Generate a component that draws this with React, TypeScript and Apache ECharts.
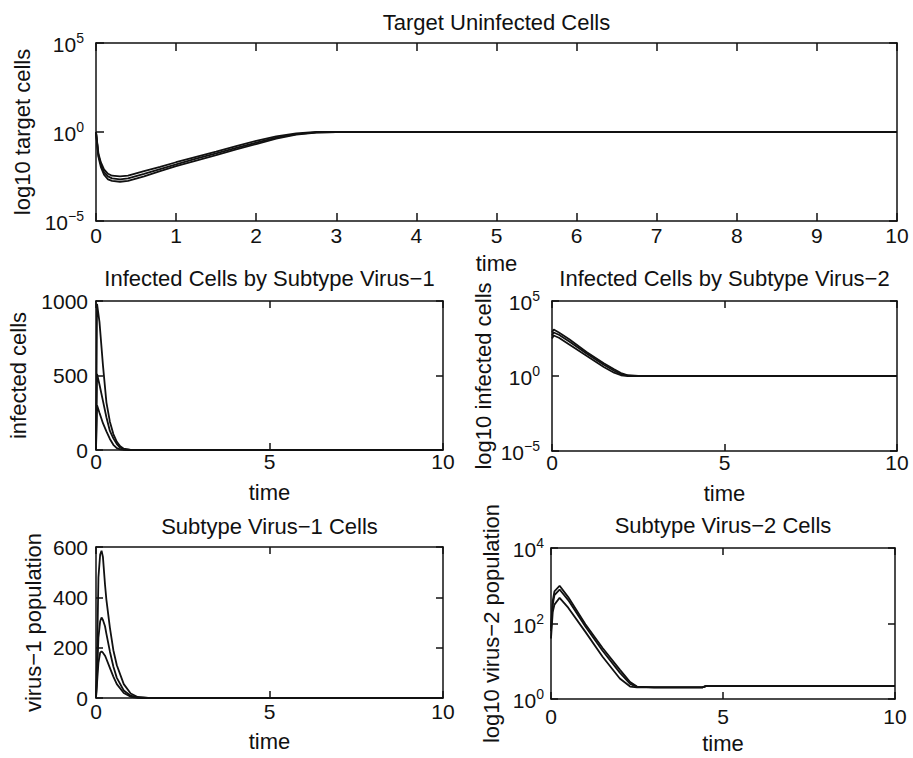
import React, { useEffect, useRef } from 'react';
import * as echarts from 'echarts';

// ---------- data ----------
// Panel 1: Target Uninfected Cells (log scale)
const timeT = [0, 0.03, 0.06, 0.1, 0.15, 0.2, 0.3, 0.4, 0.6, 0.8, 1.0, 1.25, 1.5, 1.75, 2.0, 2.25, 2.5, 2.75, 3.0, 10];
const targetA = [1, 0.063, 0.02, 0.0079, 0.0045, 0.0035, 0.0032, 0.0035, 0.0063, 0.011, 0.02, 0.04, 0.079, 0.16, 0.32, 0.56, 0.83, 1, 1, 1];
const targetB = [1, 0.05, 0.016, 0.0056, 0.0032, 0.0025, 0.0022, 0.0025, 0.0045, 0.0083, 0.015, 0.032, 0.063, 0.13, 0.25, 0.48, 0.76, 0.95, 1, 1];
const targetC = [1, 0.04, 0.011, 0.004, 0.0022, 0.0018, 0.0016, 0.0018, 0.0032, 0.0063, 0.012, 0.025, 0.05, 0.105, 0.21, 0.42, 0.71, 0.93, 1, 1];

// Panel 2: Infected Cells by Subtype Virus-1 (linear)
const timeI1 = [0, 0.03, 0.1, 0.2, 0.3, 0.4, 0.5, 0.6, 0.7, 0.8, 1.0, 1.2, 10];
const infected1A = [0, 980, 860, 570, 320, 190, 107, 55, 25, 9, 1, 0, 0];
const infected1B = [0, 510, 440, 330, 220, 128, 78, 40, 15, 4, 0, 0, 0];
const infected1C = [0, 300, 250, 180, 125, 74, 35, 12, 4, 1, 0, 0, 0];

// Panel 3: Infected Cells by Subtype Virus-2 (log scale)
const timeI2 = [0, 0.05, 0.2, 0.5, 1.0, 1.5, 1.8, 2.0, 2.2, 2.5, 10];
const infected2A = [794, 1259, 794, 282, 40, 7.1, 2.8, 1.58, 1.12, 1, 1];
const infected2B = [501, 794, 562, 200, 31.6, 5.6, 2.24, 1.32, 1.05, 1, 1];
const infected2C = [316, 501, 355, 126, 22.4, 4.0, 1.66, 1.12, 1, 1, 1];

// Panel 4: Subtype Virus-1 Cells (linear)
const timeV1 = [0, 0.03, 0.07, 0.12, 0.16, 0.2, 0.26, 0.3, 0.4, 0.5, 0.6, 0.8, 1.0, 1.2, 1.5, 10];
const virus1A = [0, 150, 480, 570, 585, 560, 450, 390, 280, 190, 130, 55, 18, 4, 0, 0];
const virus1B = [0, 90, 240, 305, 320, 310, 285, 255, 185, 125, 80, 30, 9, 2, 0, 0];
const virus1C = [0, 60, 140, 180, 185, 180, 168, 155, 120, 85, 55, 20, 5, 1, 0, 0];

// Panel 5: Subtype Virus-2 Cells (log scale)
const timeV2 = [0, 0.05, 0.1, 0.25, 0.5, 1.0, 1.5, 2.0, 2.3, 2.5, 3.0, 4.4, 4.5, 10];
const virus2A = [79, 398, 708, 1000, 501, 95, 22.4, 6.0, 2.8, 2.14, 2.04, 2.04, 2.19, 2.19];
const virus2B = [63, 316, 562, 794, 417, 83, 19, 5.0, 2.5, 2.09, 2.04, 2.04, 2.19, 2.19];
const virus2C = [40, 200, 316, 479, 263, 60, 13.2, 3.5, 2.14, 2.04, 2.04, 2.04, 2.19, 2.19];

// tick values
const logTicksWide = [1e-5, 1, 1e5];
const logTicksVirus2 = [1, 100, 10000];

// titles and axis names
const titles = [
  'Target Uninfected Cells',
  'Infected Cells by Subtype Virus\u22121',
  'Infected Cells by Subtype Virus\u22122',
  'Subtype Virus\u22121 Cells',
  'Subtype Virus\u22122 Cells',
];
const yNames = [
  'log10 target cells',
  'infected cells',
  'log10 infected cells',
  'virus\u22121 population',
  'log10 virus\u22122 population',
];
const xName = 'time';

// ---------- styling / layout ----------
const FONT = '"Liberation Sans", Arial, Helvetica, sans-serif';
const INK = '#111111';
const TICK_FS = 21;
const TITLE_FS = 22;

type Panel = {
  grid: { left: number; top: number; width: number; height: number };
  xInterval: number;
  yLog: boolean;
  yMin: number;
  yMax: number;
  yInterval?: number;
  yTicks?: number[];
  xMargin: number;
  yMargin: number;
  yNameGap: number;
  xNameGap: number;
  tick: number;
  titleY: number;
  series: { t: number[]; v: number[][] };
};

const panels: Panel[] = [
  {
    grid: { left: 96, top: 43, width: 801, height: 178 }, xInterval: 1, yLog: true, yMin: 1e-5, yMax: 1e5,
    yTicks: logTicksWide, xMargin: 4, yMargin: 12, yNameGap: 52, xNameGap: 31, tick: 8, titleY: 22,
    series: { t: timeT, v: [targetA, targetB, targetC] },
  },
  {
    grid: { left: 96, top: 301, width: 347, height: 149 }, xInterval: 5, yLog: false, yMin: 0, yMax: 1000,
    yInterval: 500, xMargin: 1, yMargin: 8, yNameGap: 67, xNameGap: 31, tick: 7, titleY: 278,
    series: { t: timeI1, v: [infected1A, infected1B, infected1C] },
  },
  {
    grid: { left: 552, top: 301, width: 345, height: 150 }, xInterval: 5, yLog: true, yMin: 1e-5, yMax: 1e5,
    yTicks: logTicksWide, xMargin: 1, yMargin: 12, yNameGap: 58, xNameGap: 31, tick: 7, titleY: 278,
    series: { t: timeI2, v: [infected2A, infected2B, infected2C] },
  },
  {
    grid: { left: 96, top: 547, width: 347, height: 151 }, xInterval: 5, yLog: false, yMin: 0, yMax: 600,
    yInterval: 200, xMargin: 3, yMargin: 8, yNameGap: 52, xNameGap: 32, tick: 7, titleY: 526,
    series: { t: timeV1, v: [virus1A, virus1B, virus1C] },
  },
  {
    grid: { left: 551, top: 548, width: 344, height: 151 }, xInterval: 5, yLog: true, yMin: 1, yMax: 1e4,
    yTicks: logTicksVirus2, xMargin: 7, yMargin: 7, yNameGap: 49, xNameGap: 33, tick: 7, titleY: 525,
    series: { t: timeV2, v: [virus2A, virus2B, virus2C] },
  },
];

const supLabel = (v: number) => {
  const e = Math.round(Math.log10(v));
  const s = e < 0 ? '\u2212' + String(-e) : String(e);
  return '{b|10}{s|' + s + '}';
};

const supRich = {
  b: { fontSize: TICK_FS, fontFamily: FONT, color: INK, lineHeight: 24, verticalAlign: 'bottom' },
  s: { fontSize: 14, fontFamily: FONT, color: INK, lineHeight: 14, verticalAlign: 'top' },
};

function buildOption() {
  const grids: any[] = [];
  const xAxes: any[] = [];
  const yAxes: any[] = [];
  const series: any[] = [];
  const graphics: any[] = [];

  const axisStyle = { color: INK, width: 1.5 };

  panels.forEach((p, i) => {
    grids.push({ ...p.grid, show: false, containLabel: false, outerBoundsMode: 'none' });
    const xBase = {
      gridIndex: i,
      type: 'value',
      min: 0,
      max: 10,
      interval: p.xInterval,
      axisLine: { show: true, onZero: false, lineStyle: axisStyle },
      axisTick: { show: true, inside: true, length: p.tick, lineStyle: axisStyle },
      splitLine: { show: false },
    };
    xAxes.push({
      ...xBase,
      position: 'bottom',
      axisLabel: {
        show: true, color: INK, fontSize: TICK_FS, fontFamily: FONT, margin: p.xMargin,
        formatter: (v: number) => String(v),
      },
      name: xName,
      nameLocation: 'middle',
      nameGap: p.xNameGap,
      nameTextStyle: { color: INK, fontSize: TITLE_FS, fontFamily: FONT },
    });
    xAxes.push({ ...xBase, position: 'top', axisLabel: { show: false } });

    let yBase: any;
    let yLabel: any;
    if (p.yLog) {
      yBase = {
        gridIndex: i,
        type: 'log',
        logBase: 10,
        min: p.yMin,
        max: p.yMax,
        axisLine: { show: true, onZero: false, lineStyle: axisStyle },
        axisTick: { show: true, inside: true, length: p.tick, lineStyle: axisStyle, customValues: p.yTicks },
        splitLine: { show: false },
        minorTick: { show: false },
      };
      yLabel = { show: true, formatter: supLabel, rich: supRich, margin: p.yMargin, customValues: p.yTicks };
    } else {
      yBase = {
        gridIndex: i,
        type: 'value',
        min: p.yMin,
        max: p.yMax,
        interval: p.yInterval,
        axisLine: { show: true, onZero: false, lineStyle: axisStyle },
        axisTick: { show: true, inside: true, length: p.tick, lineStyle: axisStyle },
        splitLine: { show: false },
      };
      yLabel = {
        show: true, color: INK, fontSize: TICK_FS, fontFamily: FONT, margin: p.yMargin,
        formatter: (v: number) => String(v),
      };
    }
    yAxes.push({
      ...yBase,
      position: 'left',
      axisLabel: yLabel,
      name: yNames[i],
      nameLocation: 'middle',
      nameGap: p.yNameGap,
      nameTextStyle: { color: INK, fontSize: TITLE_FS, fontFamily: FONT },
    });
    yAxes.push({ ...yBase, position: 'right', axisLabel: { show: false } });

    p.series.v.forEach((vals) => {
      series.push({
        type: 'line',
        xAxisIndex: 2 * i,
        yAxisIndex: 2 * i,
        data: p.series.t.map((t, k) => [t, vals[k]]),
        showSymbol: false,
        symbol: 'none',
        silent: true,
        lineStyle: { color: INK, width: 1.8 },
        z: 3,
      });
    });

    graphics.push({
      type: 'text',
      x: p.grid.left + p.grid.width / 2,
      y: p.titleY,
      silent: true,
      style: {
        text: titles[i],
        fill: INK,
        fontSize: TITLE_FS,
        fontFamily: FONT,
        align: 'center',
        verticalAlign: 'middle',
      },
    });
  });

  return {
    animation: false,
    backgroundColor: '#ffffff',
    grid: grids,
    xAxis: xAxes,
    yAxis: yAxes,
    series,
    graphic: graphics,
  };
}

export default function App() {
  const ref = useRef<HTMLDivElement | null>(null);
  useEffect(() => {
    if (!ref.current) return;
    const chart = echarts.init(ref.current, undefined, { renderer: 'svg' });
    chart.setOption(buildOption() as any);
    return () => chart.dispose();
  }, []);
  return (
    <div
      ref={ref}
      style={{ position: 'absolute', left: 0, top: 0, width: 913, height: 758, background: '#ffffff' }}
    />
  );
}
